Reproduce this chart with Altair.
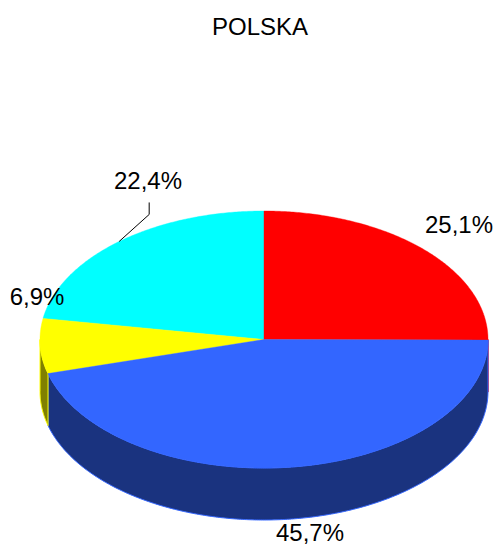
import math
import altair as alt
import pandas as pd

TITLE = "POLSKA"
categories = ["A", "B", "C", "D"]
shares = [25.1, 45.7, 6.9, 22.4]
labels = ["25,1%", "45,7%", "6,9%", "22,4%"]
top_colors = ["#ff0000", "#3366ff", "#ffff00", "#00ffff"]
side_colors = ["#800000", "#1a337f", "#808000", "#008080"]

# layout, in page pixels
W, H = 502, 554
CX, CY, RX, RY, DEPTH = 264.0, 339.5, 224.0, 128.5, 52.0
label_pos = [(459, 226), (310, 534), (37, 298), (148, 182)]
FONT = "Liberation Sans"
FS = 24
PW, PH = W - 16, H - 16


def pt(deg, drop=0.0):
    a = math.radians(deg)
    return CX + RX * math.sin(a), CY - RY * math.cos(a) + drop


def arc(a0, a1, drop=0.0):
    n = max(2, int(abs(a1 - a0) * 2) + 1)
    return [pt(a0 + (a1 - a0) * k / (n - 1), drop) for k in range(n)]


total = sum(shares)
edges = [0.0]
for s in shares:
    edges.append(edges[-1] + s / total * 360)

x_scale = alt.Scale(domain=[8, 8 + PW], range=[0, PW], nice=False, zero=False)
y_scale = alt.Scale(domain=[8, 8 + PH], range=[0, PH], nice=False, zero=False)


def polygon(points, fill, stroke=None, sw=0.0):
    closed = points + [points[0]]
    df = pd.DataFrame({"px": [p[0] for p in closed], "py": [p[1] for p in closed], "i": range(len(closed))})
    kw = {"fill": fill, "clip": False, "interpolate": "linear"}
    kw["stroke"] = stroke if stroke else fill
    kw["strokeWidth"] = sw if stroke else 0.4
    return alt.Chart(df).mark_line(**kw).encode(
        x=alt.X("px:Q", scale=x_scale, axis=None),
        y=alt.Y("py:Q", scale=y_scale, axis=None),
        order=alt.Order("i:Q"),
    )


layers = []
# visible walls: the front half of the rim only
for i in range(len(shares)):
    a0, a1 = edges[i], edges[i + 1]
    lo, hi = max(a0, 90.0), min(a1, 270.0)
    if lo < hi:
        upper = arc(lo, hi)
        lower = arc(lo, hi, DEPTH)
        layers.append(polygon(upper + lower[::-1], side_colors[i], top_colors[i], 1.0))
# top faces
for i in [3, 2, 0, 1]:
    pts = [(CX, CY)] + arc(edges[i], edges[i + 1])
    layers.append(polygon(pts, top_colors[i]))

# leader of the last slice, from the middle of its rim
mid = (edges[3] + edges[4]) / 2
ex, ey = pt(mid)
lead = pd.DataFrame({"px": [ex, ex + 30, ex + 30], "py": [ey, ey - 27, ey - 39], "i": [0, 1, 2]})
layers.append(
    alt.Chart(lead).mark_line(color="#000000", strokeWidth=1, clip=False).encode(
        x=alt.X("px:Q", scale=x_scale, axis=None),
        y=alt.Y("py:Q", scale=y_scale, axis=None),
        order=alt.Order("i:Q"),
    )
)

text_df = pd.DataFrame(
    {"px": [p[0] for p in label_pos] + [260], "py": [p[1] for p in label_pos] + [28], "t": labels + [TITLE]}
)
layers.append(
    alt.Chart(text_df).mark_text(font=FONT, fontSize=FS, color="#000000", align="center", baseline="middle", clip=False).encode(
        x=alt.X("px:Q", scale=x_scale, axis=None),
        y=alt.Y("py:Q", scale=y_scale, axis=None),
        text="t:N",
    )
)

chart = (
    alt.layer(*layers)
    .properties(width=PW, height=PH, padding=0, autosize=alt.AutoSizeParams(type="none"), background="#ffffff")
    .configure_view(stroke=None)
)
chart.save("out.html", embed_options={"renderer": "svg", "actions": False})
